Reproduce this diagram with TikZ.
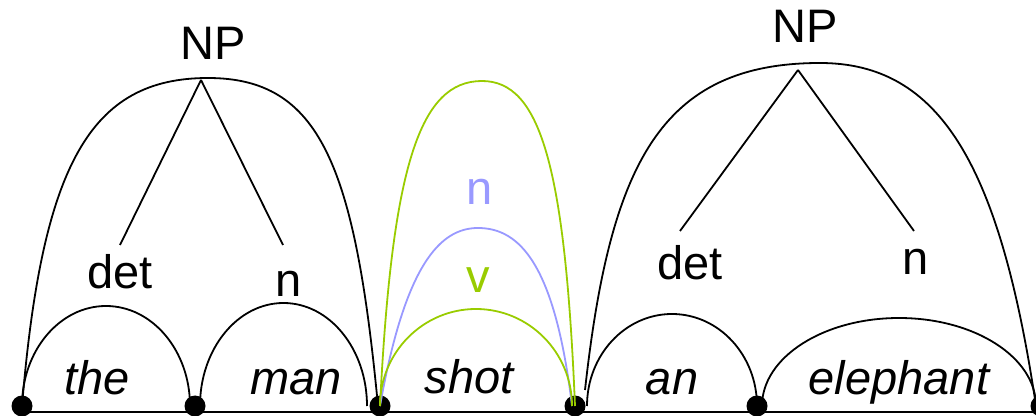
\documentclass[tikz,border=0pt]{standalone}
\usepackage{fontspec}
\setmainfont{Liberation Sans}
\definecolor{lgreen}{RGB}{153,204,0}
\definecolor{lblue}{RGB}{153,153,255}
\begin{document}
\begin{tikzpicture}[x=1pt,y=1pt,
  lbl/.style={inner sep=0pt,anchor=base,font=\fontsize{47}{56}\selectfont},
  word/.style={inner sep=0pt,anchor=base,font=\fontsize{47}{56}\selectfont\itshape},
  curve/.style={line width=1.8pt,black},
  branch/.style={line width=1.8pt,black},
  dot/.style={circle,fill=black,inner sep=0pt,minimum size=21pt}]
\useasboundingbox (0,0) rectangle (1036,415);
\begin{scope}
\clip (0,0) rectangle (1036,415);
% baseline
\coordinate (b0) at (22,3);
\coordinate (b1) at (1036,3);
\draw[line width=2pt] (b0) -- (b1);
% dots
\node[dot] (d0) at (22,9) {};
\node[dot] (d1) at (195,9) {};
\node[dot] (d2) at (380,9) {};
\node[dot] (d3) at (575,9) {};
\node[dot] (d4) at (757,9) {};
\node[dot] (d5) at (1041,9) {};
% words
\node[word] (w1) at (97,20) {the};
\node[word] (w2) at (296,20) {man};
\node[word] (w3) at (469,22) {shot};
\node[word] (w4) at (672,20) {an};
\node[word] (w5) at (899,20) {elephant};
% word arcs
\draw[curve] (22,9) arc[start angle=180,end angle=0,x radius=84,y radius=100];
\draw[curve] (200,9) arc[start angle=180,end angle=0,x radius=83.5,y radius=103];
\draw[curve] (587,9) arc[start angle=180,end angle=0,x radius=85,y radius=92];
\draw[curve] (762,9) arc[start angle=180,end angle=0,x radius=137,y radius=88];
% NP 1
\draw[curve] (22,9) .. controls (42,250) and (90,337) .. (208,337)
  .. controls (320,337) and (355,250) .. (378,9);
\node[lbl] (np1) at (213,355) {NP};
\node[lbl] (det1) at (120,126) {det};
\node[lbl] (n1) at (289,118) {n};
\coordinate (apex1) at (201,335);
\coordinate (det1tip) at (120,170);
\coordinate (n1tip) at (283,170);
\draw[branch] (apex1) -- (det1tip);
\draw[branch] (apex1) -- (n1tip);
% shot
\draw[curve,lgreen] (380,9) .. controls (392,250) and (420,334) .. (482,334)
  .. controls (540,334) and (565,250) .. (575,9);
\draw[curve,lblue] (380,9) .. controls (405,150) and (440,187) .. (478,187)
  .. controls (520,187) and (555,150) .. (572,9);
\draw[curve,lgreen] (380,9) arc[start angle=180,end angle=0,x radius=96,y radius=97];
\node[lbl,text=lblue] (nlab) at (480,210) {n};
\node[lbl,text=lgreen] (vlab) at (478,122) {v};
% NP 2
\draw[curve] (585,25) .. controls (610,250) and (660,352) .. (820,352)
  .. controls (940,352) and (1000,250) .. (1036,9);
\node[lbl] (np2) at (805,372) {NP};
\node[lbl] (det2) at (690,135) {det};
\node[lbl] (n2) at (916,140) {n};
\coordinate (apex2) at (798,345);
\coordinate (det2tip) at (680,184);
\coordinate (n2tip) at (914,184);
\draw[branch] (apex2) -- (det2tip);
\draw[branch] (apex2) -- (n2tip);
\end{scope}
\end{tikzpicture}
\end{document}
